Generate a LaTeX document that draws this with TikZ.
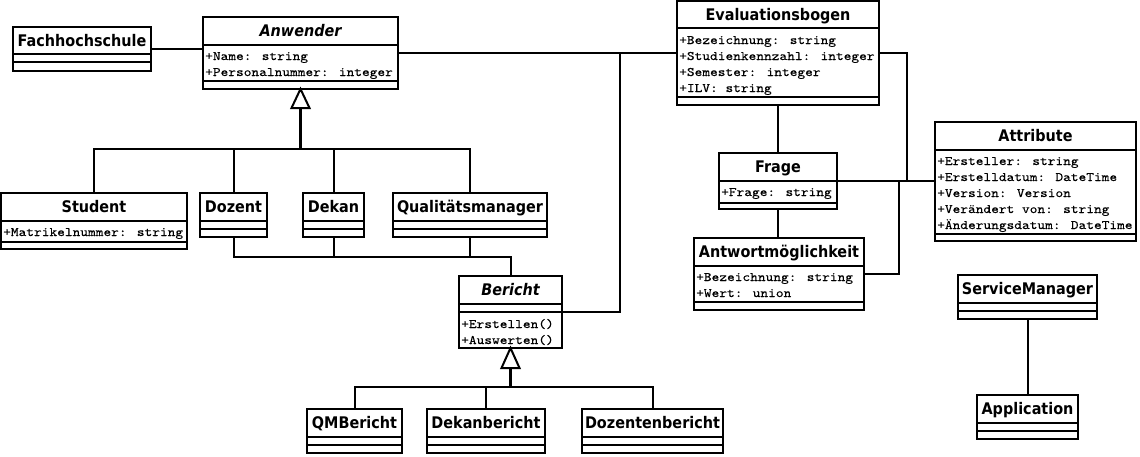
\documentclass[tikz,border=0pt]{standalone}
\usepackage{fontspec}
\newfontfamily\ttlfont{DejaVu Sans}[FakeStretch=0.9]
\newfontfamily\attrfont{lmmono10-regular.otf}[FakeStretch=1.13,FakeBold=0.15]
\tikzset{
  box/.style={draw, line width=2pt, fill=white, inner sep=0pt, outer sep=0pt, rectangle},
  ttl/.style={font=\ttlfont\bfseries\fontsize{16}{18}\selectfont, inner sep=0pt, text height=11.6pt, text depth=0.3pt},
  attr/.style={font=\attrfont\fontsize{13}{16}\selectfont, inner sep=0pt, anchor=west, text height=8pt, text depth=0pt},
  conn/.style={line width=2pt},
  gen/.style={line width=3pt},
  tri/.style={draw, line width=2pt, fill=white, line join=miter}
}
\newcommand\umlcls[8]{%
  \node[box, anchor=north west, minimum width={(#4)-(#2)}, minimum height={(#5)-(#3)}] (#1) at (#2,#3) {};
  \draw[line width=2pt] (#2,#6) -- (#4,#6) (#2,#7) -- (#4,#7);
  \node[ttl] (#1-title) at ({((#2)+(#4))/2},{((#3)+(#6))/2}) {#8};
}
\begin{document}
\begin{tikzpicture}[x=1pt,y=-1pt]
\path[fill=white, use as bounding box] (0,0) rectangle (1140,456);
% junction coordinates
\coordinate (hA) at (0,149);
\coordinate (hB) at (0,257);
\coordinate (hC) at (0,387);
\coordinate (jb) at (620,53);
\coordinate (ja) at (907,181);
\coordinate (jc) at (899,181);

% classes
\umlcls{fh}{13}{27}{151}{71}{54}{62}{Fachhochschule}
\umlcls{anw}{203}{17}{398}{89}{45}{81}{\itshape Anwender}
\node[attr] (anw-a1) at (205,56) {+Name: string};
\node[attr] (anw-a2) at (205,72) {+Personalnummer: integer};

\umlcls{stu}{1}{193}{187}{249}{221}{242}{Student}
\node[attr] (stu-a1) at (3,232) {+Matrikelnummer: string};
\umlcls{doz}{200}{193}{267}{237}{221}{229}{Dozent}
\umlcls{dek}{303}{193}{364}{237}{221}{229}{Dekan}
\umlcls{qm}{393}{193}{547}{237}{221}{229}{Qualitätsmanager}

\umlcls{ber}{459}{276}{562}{348}{304}{312}{\itshape Bericht}
\node[attr] (ber-a1) at (461,324) {+Erstellen()};
\node[attr] (ber-a2) at (461,340) {+Auswerten()};

\umlcls{qmb}{307}{409}{402}{453}{437}{445}{QMBericht}
\umlcls{dkb}{427}{409}{545}{453}{437}{445}{Dekanbericht}
\umlcls{dzb}{582}{409}{723}{453}{437}{445}{Dozentenbericht}

\umlcls{ev}{677}{1}{879}{105}{28}{97}{Evaluationsbogen}
\node[attr] (ev-a1) at (679,40) {+Bezeichnung: string};
\node[attr] (ev-a2) at (679,56) {+Studienkennzahl: integer};
\node[attr] (ev-a3) at (679,72) {+Semester: integer};
\node[attr] (ev-a4) at (679,88) {+ILV: string};

\umlcls{frage}{719}{153}{837}{209}{181}{203}{Frage}
\node[attr] (frage-a1) at (721,192) {+Frage: string};

\umlcls{antw}{694}{238}{864}{310}{266}{302}{Antwortmöglichkeit}
\node[attr] (antw-a1) at (696,277) {+Bezeichnung: string};
\node[attr] (antw-a2) at (696,293) {+Wert: union};

\umlcls{at}{935}{122}{1136}{241}{150}{234}{Attribute}
\node[attr] (at-a1) at (937,161) {+Ersteller: string};
\node[attr] (at-a2) at (937,177) {+Erstelldatum: DateTime};
\node[attr] (at-a3) at (937,193) {+Version: Version};
\node[attr] (at-a4) at (937,209) {+Verändert von: string};
\node[attr] (at-a5) at (937,225) {+Änderungsdatum: DateTime};

\umlcls{sm}{958}{275}{1097}{319}{303}{311}{ServiceManager}
\umlcls{app}{977}{395}{1078}{439}{423}{431}{Application}

% associations
\draw[conn] (fh.east) -- (fh.east -| anw.west);
\draw[conn] (anw.east) -- (anw.east -| ev.west);
\draw[conn] (ber.east) -| (jb);
\draw[conn] (ev.east) -| (ja) -- (ja -| at.west);
\draw[conn] (frage.east) -- (frage.east -| at.west);
\draw[conn] (antw.east) -| (jc);
\draw[conn] (ev.south) -- (ev.south |- frage.north);
\draw[conn] (frage.south) -- (frage.south |- antw.north);
\draw[conn] (sm.south) -- (sm.south |- app.north);
\draw[conn] (doz.south) -- (doz.south |- hB) -| (ber.north);
\draw[conn] (dek.south) -- (dek.south |- hB);
\draw[conn] (qm.south) -- (qm.south |- hB);

% generalization Anwender
\draw[conn] (stu.north) -- (stu.north |- hA) -- (qm.north |- hA) -- (qm.north);
\draw[conn] (doz.north) -- (doz.north |- hA);
\draw[conn] (dek.north) -- (dek.north |- hA);
\draw[gen] (anw.south) ++(0,19) -- (anw.south |- hA);
\draw[tri] (anw.south) -- ++(9,19) -- ++(-18,0) -- cycle;

% generalization Bericht
\draw[conn] (qmb.north) -- (qmb.north |- hC) -- (dzb.north |- hC) -- (dzb.north);
\draw[conn] (dkb.north) -- (dkb.north |- hC);
\draw[gen] (ber.south) ++(0,20) -- (ber.south |- hC);
\draw[tri] (ber.south) -- ++(9,20) -- ++(-18,0) -- cycle;
\end{tikzpicture}
\end{document}
